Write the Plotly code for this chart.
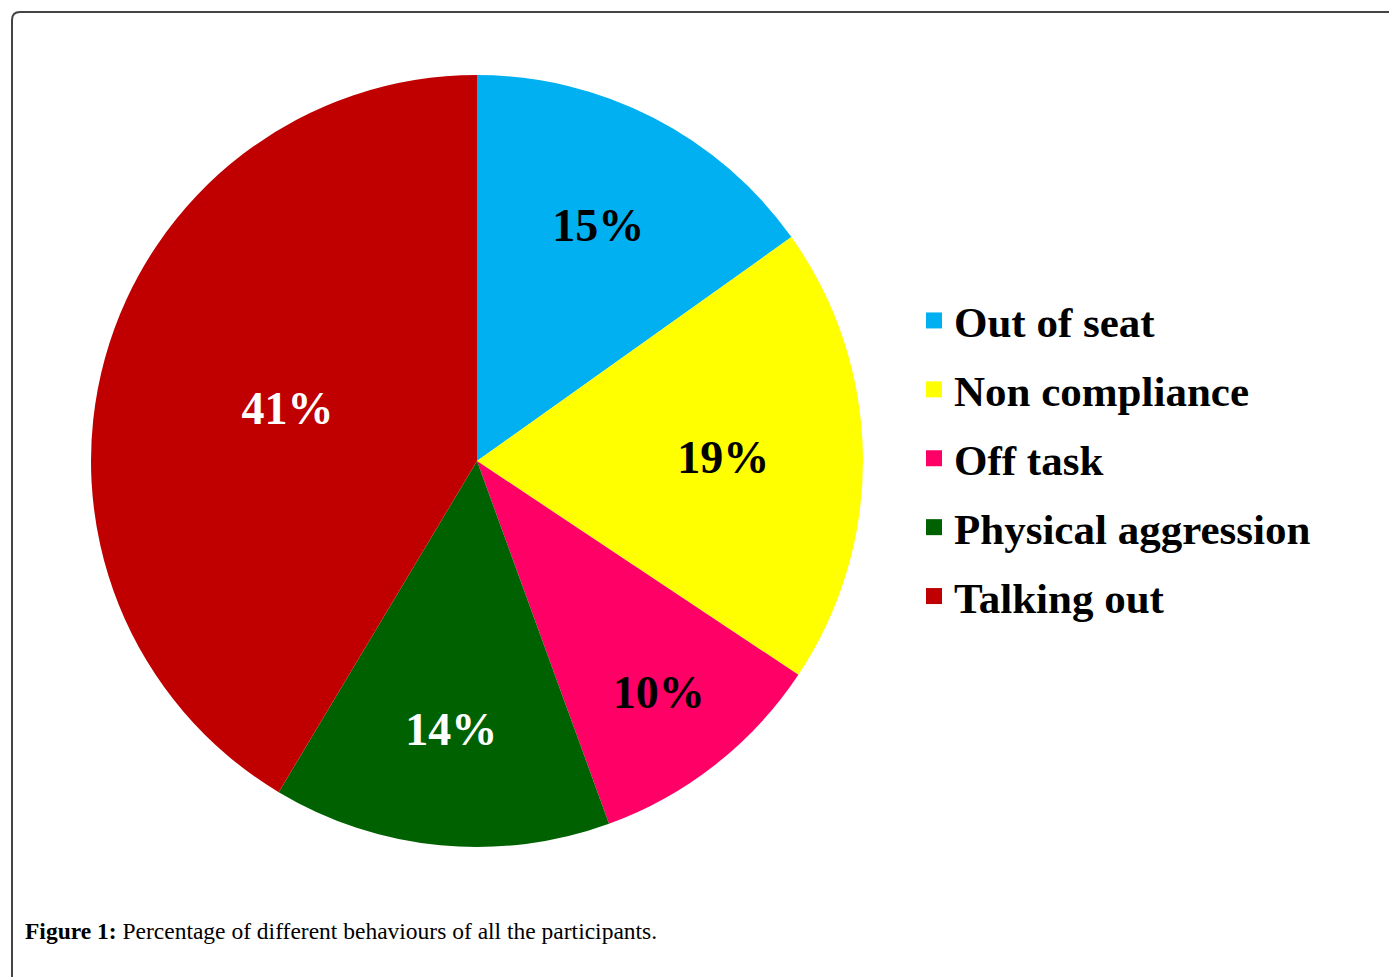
import plotly.graph_objects as go

categories = ["Out of seat", "Non compliance", "Off task", "Physical aggression", "Talking out"]
values = [15, 19, 10, 14, 41]
colors = ["#00B0F0", "#FFFF00", "#FF0066", "#006100", "#C00000"]
label_colors = ["black", "black", "black", "white", "white"]
caption_bold = "Figure 1:"
caption_text = " Percentage of different behaviours of all the participants."

W, H = 1389, 977

fig = go.Figure()
fig.add_trace(go.Pie(
    labels=categories,
    values=values,
    sort=False,
    direction="clockwise",
    rotation=0,
    marker=dict(colors=colors, line=dict(width=0)),
    textinfo="percent",
    texttemplate="%{percent:.0%}",
    textposition="inside",
    insidetextorientation="horizontal",
    textfont=dict(family="Liberation Serif", size=46, color=label_colors, weight="bold"),
    domain=dict(x=[91 / W, 863 / W], y=[1 - 847 / H, 1 - 75 / H]),
    hoverinfo="label+percent",
    showlegend=False,
))

# legend entries (square swatches, one group each so the gap can be set)
for name, col in zip(categories, colors):
    fig.add_trace(go.Scatter(
        x=[None], y=[None], mode="markers", name=name,
        legendgroup=name,
        marker=dict(symbol="square", size=20, color=col),
        hoverinfo="skip",
    ))

# frame
r = 8
x0, y0 = 12, 12
x1, y1 = W + 20, H + 20
path = (f"M {x0/W},{1-(y0+r)/H} Q {x0/W},{1-y0/H} {(x0+r)/W},{1-y0/H} "
        f"L {x1/W},{1-y0/H} M {x0/W},{1-(y0+r)/H} L {x0/W},{1-y1/H}")

fig.update_layout(
    width=W, height=H,
    margin=dict(l=0, r=0, t=0, b=0),
    paper_bgcolor="white",
    plot_bgcolor="white",
    showlegend=True,
    xaxis=dict(visible=False),
    yaxis=dict(visible=False),
    legend=dict(
        x=914 / W, y=1 - 286 / H, xanchor="left", yanchor="top",
        font=dict(family="Liberation Serif", size=43, color="black", weight="bold"),
        bgcolor="rgba(0,0,0,0)",
        tracegroupgap=10,
        itemsizing="trace",
        itemwidth=30,
    ),
    shapes=[dict(type="path", xref="paper", yref="paper", path=path,
                 line=dict(color="#444444", width=2))],
    annotations=[dict(
        xref="paper", yref="paper", x=23 / W, y=1 - 931 / H,
        xanchor="left", yanchor="middle", showarrow=False,
        text=f"<b>{caption_bold}</b>{caption_text}",
        font=dict(family="Liberation Serif", size=23.5, color="black"),
    )],
)

fig.write_html("out.html")
